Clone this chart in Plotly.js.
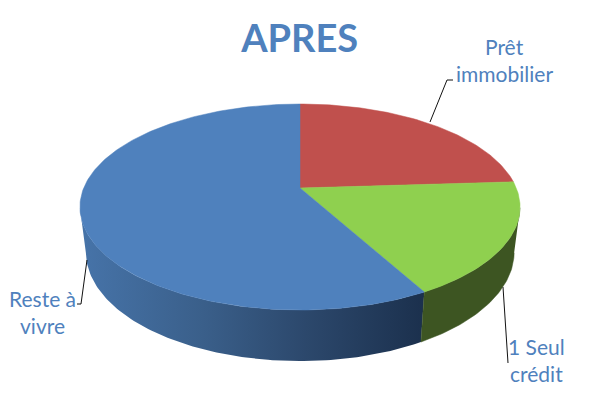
<!DOCTYPE html>
<html>
<head>
<meta charset="utf-8">
<script src="https://cdn.plot.ly/plotly-3.0.1.min.js"></script>
<style>html,body{margin:0;padding:0;background:#fff}#chart{width:600px;height:400px}</style>
</head>
<body>
<div id="chart"></div>
<script>
// Data
var categories = ["Prêt immobilier", "1 Seul crédit", "Reste à vivre"];
var values = [24, 18, 58];
var capColors = ["#c0504d", "#8fd04f", "#4f81bd"];
var titleText = "APRES";
var textColor = "#4f81bd";

// Perspective projection of the disc onto the page
var cx = 300, cy = 188, A = 99.5, B = 216.3, k = 0.1845;
var baseY = 232, baseScaleX = 0.973, baseScaleY = 1.058;
function project(deg, isBase) {
  var t = deg * Math.PI / 180, u = Math.sin(t), v = -Math.cos(t);
  var d = 1 - k * v, px = B * u / d, py = A * v / d;
  return isBase ? [cx + baseScaleX * px, baseY + baseScaleY * py] : [cx + px, cy + py];
}
function arc(a0, a1, isBase) {
  var pts = [], n = Math.max(2, Math.ceil(Math.abs(a1 - a0)));
  for (var i = 0; i <= n; i++) pts.push(project(a0 + (a1 - a0) * i / n, isBase));
  return pts;
}
var total = values.reduce(function (a, b) { return a + b; }, 0);
var bounds = [0];
values.forEach(function (v, i) { bounds.push(bounds[i] + v / total * 360); });

function poly(pts, extra) {
  var tr = {
    type: "scatter", mode: "lines", hoverinfo: "skip", showlegend: false,
    x: pts.map(function (p) { return p[0]; }),
    y: pts.map(function (p) { return p[1]; }),
    fill: "toself", line: { width: 0.5 }
  };
  for (var key in extra) tr[key] = extra[key];
  return tr;
}
var traces = [];
// Side wall: blue (gradient) then green
var blueSide = arc(bounds[2], 259, false).concat(arc(259, bounds[2], true));
traces.push(poly(blueSide, {
  line: { width: 0, color: "#2f4d73" },
  fillgradient: {
    type: "horizontal", start: 84, stop: 425,
    colorscale: [[0, "#4673a8"], [0.35, "#3a5f8a"], [0.65, "#2c486c"], [1, "#1b304d"]]
  }
}));
var greenSide = arc(101, bounds[2], false).concat(arc(bounds[2], 101, true));
traces.push(poly(greenSide, { line: { width: 0.5, color: "#3d5522" }, fillcolor: "#3d5522" }));
// Top cap
values.forEach(function (v, i) {
  var pts = [[cx, cy]].concat(arc(bounds[i], bounds[i + 1], false));
  pts.push([cx, cy]);
  traces.push(poly(pts, { line: { width: 0.5, color: capColors[i] }, fillcolor: capColors[i] }));
});
// Leader lines
var leaderX = [[430, 447, 453], [503, 508], [87, 81, 77]];
var leaderY = [[122, 80, 80], [287, 363], [260, 304, 304]];
leaderX.forEach(function (lx, i) {
  traces.push({
    type: "scatter", mode: "lines", hoverinfo: "skip", showlegend: false,
    x: lx, y: leaderY[i], line: { color: "#111111", width: 1 }
  });
});

// Labels, one line of text at a time
var labelLines = ["Prêt", "immobilier", "1 Seul", "crédit", "Reste à", "vivre"];
var labelX = [504, 504, 536, 536, 42, 42];
var labelY = [46, 73, 346, 373, 298, 325];
var annotations = labelLines.map(function (s, i) {
  return {
    text: s, x: labelX[i], y: labelY[i], xref: "x", yref: "y",
    showarrow: false, xanchor: "center", yanchor: "middle",
    font: { family: "Lato, sans-serif", size: 21, color: textColor }
  };
});

var layout = {
  width: 600, height: 400,
  margin: { l: 0, r: 0, t: 0, b: 0 },
  paper_bgcolor: "#ffffff", plot_bgcolor: "#ffffff",
  showlegend: false,
  title: {
    text: "<b>" + titleText + "</b>",
    x: 0.4995, xanchor: "center", y: 0.9025, yanchor: "middle",
    font: { family: "Lato, sans-serif", size: 38, color: textColor }
  },
  xaxis: { range: [0, 600], visible: false, fixedrange: true },
  yaxis: { range: [400, 0], visible: false, fixedrange: true },
  annotations: annotations
};
Plotly.newPlot("chart", traces, layout, { displayModeBar: false, staticPlot: true });
</script>
</body>
</html>
